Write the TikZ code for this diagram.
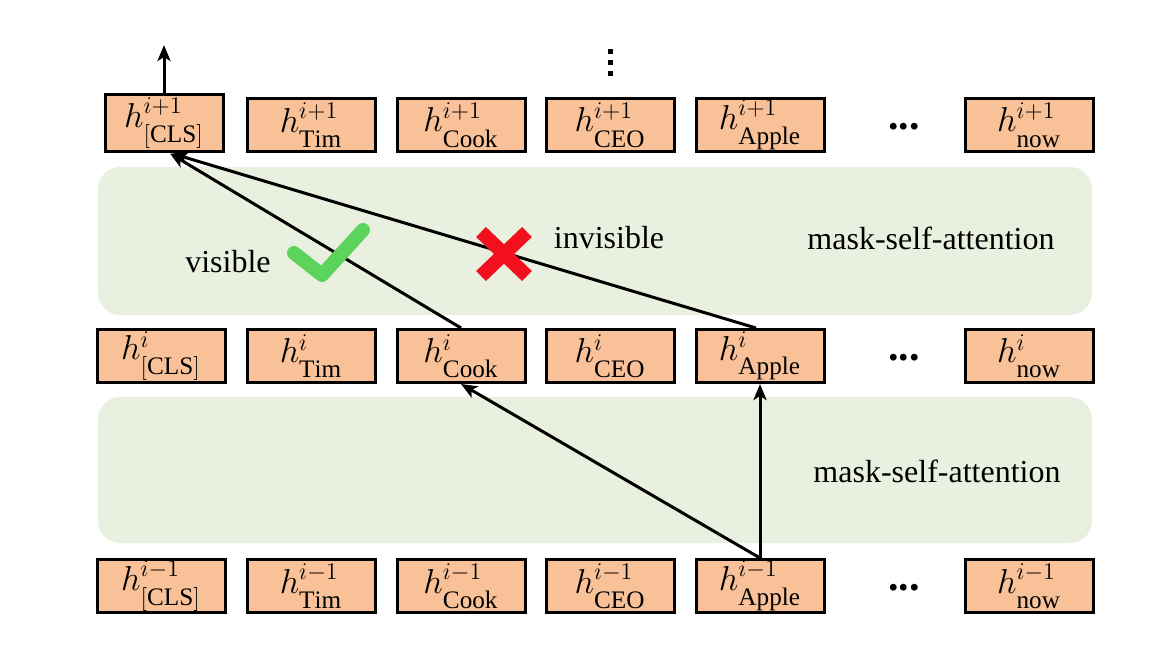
\documentclass[tikz,border=0pt]{standalone}
\usepackage{fontspec}
\setmainfont{Liberation Serif}
\usetikzlibrary{arrows.meta}
\definecolor{boxfill}{HTML}{F8C198}
\definecolor{band}{HTML}{E9F0DF}
\definecolor{chk}{HTML}{5CD45C}
\definecolor{xred}{HTML}{F2101F}
\newcommand\hlab[2]{$h^{#1}_{\rule{0pt}{1.45ex}\mathrm{#2}}$}
\begin{document}
\begin{tikzpicture}[x=0.5pt,y=-0.5pt,
  hbox/.style={draw=black,line width=1.5pt,fill=boxfill,minimum width=64pt,minimum height=26.5pt,inner sep=0pt,font=\fontsize{18}{21}\selectfont},
  bandbox/.style={fill=band,rounded corners=11pt,draw=none},
  lbl/.style={font=\fontsize{16}{19}\selectfont,inner sep=0pt},
  dotsl/.style={font=\fontsize{21}{24}\selectfont\bfseries,inner sep=0pt},
  conn/.style={line width=1.5pt,-{Stealth[length=8pt,width=6.5pt,inset=2pt]}}]
\useasboundingbox (0,0) rectangle (1156,652);
% bands
\fill[bandbox] (98,167) rectangle (1092,315);
\fill[bandbox] (98,397) rectangle (1092,543);
% top row
\node[hbox,minimum width=59pt,minimum height=28.5pt] (clst) at (164,123.5) {\hlab{i+1}{[CLS]}};
\node[hbox] (timt) at (311,125) {\hlab{i+1}{Tim}};
\node[hbox] (cookt) at (461,125) {\hlab{i+1}{Cook}};
\node[hbox] (ceot) at (610,125) {\hlab{i+1}{CEO}};
\node[hbox] (applet) at (760,125) {\hlab{i+1}{Apple}};
\node[dotsl] (dotst) at (904,127) {...};
\node[hbox] (nowt) at (1029,125) {\hlab{i+1}{now}};
% middle row
\node[hbox] (clsm) at (161,356) {\hlab{i}{[CLS]}};
\node[hbox] (timm) at (311,356) {\hlab{i}{Tim}};
\node[hbox] (cookm) at (461,356) {\hlab{i}{Cook}};
\node[hbox] (ceom) at (610,356) {\hlab{i}{CEO}};
\node[hbox] (applem) at (760,356) {\hlab{i}{Apple}};
\node[dotsl] (dotsm) at (904,358) {...};
\node[hbox] (nowm) at (1029,356) {\hlab{i}{now}};
% bottom row
\node[hbox] (clsb) at (161,586) {\hlab{i-1}{[CLS]}};
\node[hbox] (timb) at (311,586) {\hlab{i-1}{Tim}};
\node[hbox] (cookb) at (461,586) {\hlab{i-1}{Cook}};
\node[hbox] (ceob) at (610,586) {\hlab{i-1}{CEO}};
\node[hbox] (appleb) at (760,586) {\hlab{i-1}{Apple}};
\node[dotsl] (dotsb) at (904,588) {...};
\node[hbox] (nowb) at (1029,586) {\hlab{i-1}{now}};
% vertical dots
\foreach \yy in {52,63,74} \fill (607.5,\yy-2.5) rectangle (612.5,\yy+2.5);
% labels
\node[lbl] (vis) at (228,262) {visible};
\node[lbl] (invis) at (609,238) {invisible};
\node[lbl] (msa1) at (931,238) {mask-self-attention};
\node[lbl] (msa2) at (937,471) {mask-self-attention};
% top arrow
\coordinate (outtop) at (164,45);
\draw[conn] (clst.north) -- (outtop);
% connectors
\draw[conn] (cookm.north) -- ([xshift=3pt]clst.south);
\draw[conn] ([xshift=-2pt]applem.north) -- ([xshift=4pt]clst.south);
\draw[conn] (appleb.north) -- (cookm.south);
\draw[conn] (appleb.north) -- (applem.south);
% check mark
\draw[chk,line width=7pt,line cap=round,line join=round] (294,253) -- (322,275) -- (363,230);
% cross
\draw[xred,line width=7pt] (481,232) -- (527,276) (527,232) -- (481,276);
\end{tikzpicture}
\end{document}
